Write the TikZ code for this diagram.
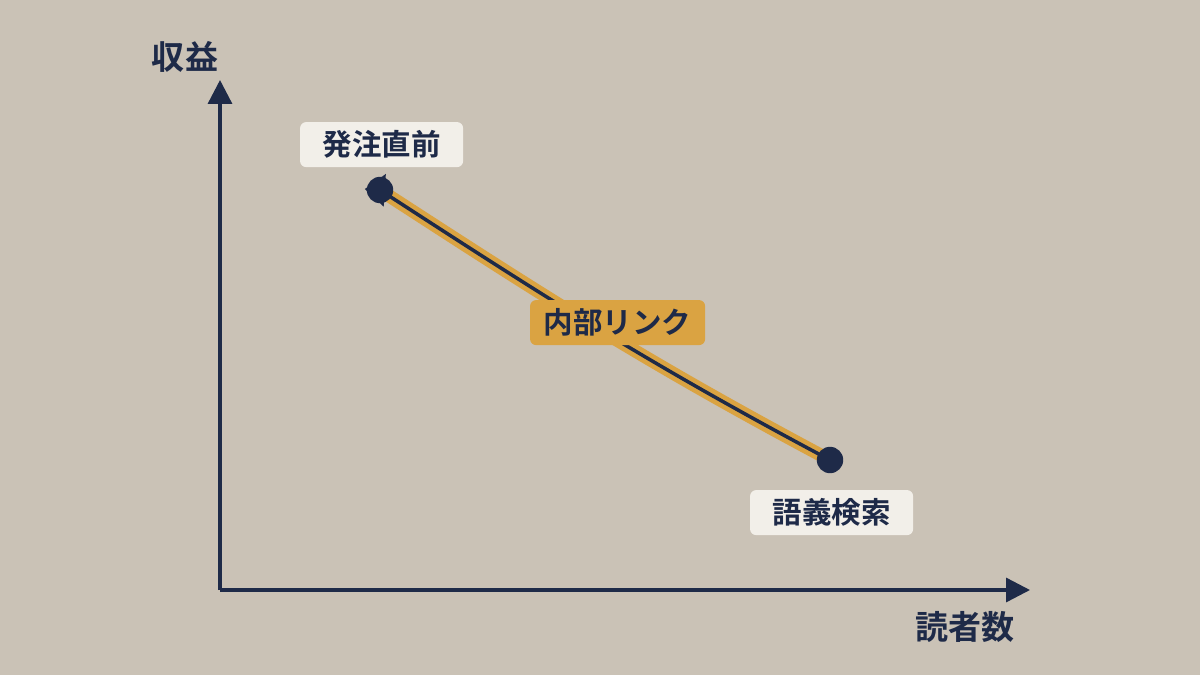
\documentclass[tikz,border=0pt]{standalone}
\usepackage{fontspec}
\newfontfamily\jpfont{Noto Sans CJK JP}[BoldFont={Noto Sans CJK JP Bold}]
\usepackage{tikz}
\usetikzlibrary{arrows.meta, positioning}
\usepackage{xcolor}
\definecolor{bgsand}{RGB}{202,194,182}
\definecolor{navy}{RGB}{30,42,72}
\definecolor{gold}{RGB}{218,163,66}
\definecolor{paper}{RGB}{242,239,233}

\begin{document}
\begin{tikzpicture}[thick,
    tag/.style={fill=paper, rounded corners=0.15cm, minimum width=4.075cm, minimum height=1.125cm, text=navy, font=\jpfont\bfseries\fontsize{21}{25}\selectfont},
    linktag/.style={fill=gold, rounded corners=0.15cm, minimum width=4.375cm, minimum height=1.125cm, text=navy, font=\jpfont\bfseries\fontsize{21}{25}\selectfont},
    axislabel/.style={text=navy, font=\jpfont\bfseries\fontsize{23.5}{28}\selectfont}]
    % Background and frame
    \fill[bgsand] (0,0) rectangle (30,16.875);
    \useasboundingbox (0,0) rectangle (30,16.875);

    % Axes
    \coordinate (O) at (5.5,2.125);
    \coordinate (Y) at (5.5,14.875);
    \coordinate (X) at (25.75,2.125);
    \draw[navy, line width=2.4pt, -{Triangle[length=0.6cm, width=0.6cm]}] (O) -- (Y);
    \draw[navy, line width=2.4pt, -{Triangle[length=0.6cm, width=0.6cm]}] (O) -- (X);
    \node[axislabel] (ylab) at (4.625,15.45) {収益};
    \node[axislabel] (xlab) at (24.125,1.2) {読者数};

    % Points
    \coordinate (P) at (9.5,12.125);
    \coordinate (S) at (20.75,5.375);
    \coordinate (Ptip) at (9.12,12.15);

    % Link curve (gold band with navy core)
    \draw[gold, line width=3.4pt, double=navy, double distance=2.5pt] (S) to[out=152, in=-33] (P);
    \draw[navy, line width=2.5pt, -{Triangle[length=0.5cm, width=0.8cm]}] (P) -- (Ptip);
    \fill[navy] (P) circle (0.33);
    \fill[navy] (S) circle (0.33);

    % Labels
    \node[tag] (pre) at (9.54,13.26) {発注直前};
    \node[tag] (sem) at (20.79,4.06) {語義検索};
    \node[linktag] (link) at (15.44,8.81) {内部リンク};
\end{tikzpicture}
\end{document}
